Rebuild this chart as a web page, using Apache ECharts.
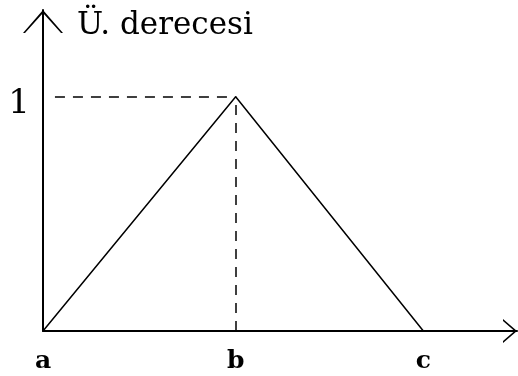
<!DOCTYPE html>
<html>
<head>
<meta charset="utf-8">
<script src="https://cdn.jsdelivr.net/npm/echarts@6/dist/echarts.min.js"></script>
<style>
  * { margin: 0; padding: 0; }
  body { background: #fff; }
</style>
</head>
<body>
<div id="main" style="width:518px;height:376px"></div>
<script>
// üyelik fonksiyonu noktaları
var pointNames = ['a', 'b', 'c'];
var pointX = [0, 1, 1.974];
var pointY = [0, 1, 0];
var yLabels = [1];
var titleText = 'Ü. derecesi';

var serif = 'DejaVu Serif';
var triangle = pointX.map(function (x, i) { return [x, pointY[i]]; });

var myChart = echarts.init(document.getElementById('main'));
myChart.setOption({
  animation: false,
  backgroundColor: '#fff',
  title: {
    text: titleText,
    left: 77,
    top: 10,
    padding: 0,
    textStyle: { fontFamily: serif, fontSize: 31, fontWeight: 'normal', color: '#000' }
  },
  grid: { left: 43, right: 1, top: 10, bottom: 45 },
  xAxis: {
    type: 'value',
    min: 0,
    max: 2.46,
    splitLine: { show: false },
    axisTick: { show: false },
    axisLine: {
      onZero: false,
      lineStyle: { color: '#000', width: 2 },
      symbol: ['none', 'path://M0,14 L12,0 L24,14 L22,14 L12,2.5 L2,14 Z'],
      symbolSize: [24, 14],
      symbolOffset: [0, -7]
    },
    axisLabel: {
      customValues: pointX,
      formatter: function (v) { return pointNames[pointX.indexOf(v)]; },
      margin: 18,
      fontFamily: serif,
      fontSize: 25,
      fontWeight: 'bold',
      color: '#000'
    }
  },
  yAxis: {
    type: 'value',
    min: 0,
    max: 1.37,
    splitLine: { show: false },
    axisTick: { show: false },
    axisLine: {
      onZero: false,
      lineStyle: { color: '#000', width: 2 },
      symbol: ['none', 'path://M0,23 L20,0 L40,23 L38,23 L20,3 L2,23 Z'],
      symbolSize: [40, 23],
      symbolOffset: [0, -11.5]
    },
    axisLabel: {
      customValues: yLabels,
      margin: 13,
      verticalAlign: 'top',
      lineHeight: 14,
      fontFamily: serif,
      fontSize: 34,
      color: '#000'
    }
  },
  series: [{
    type: 'line',
    data: triangle,
    symbol: 'none',
    lineStyle: { color: '#000', width: 1.5 },
    markLine: {
      silent: true,
      symbol: 'none',
      label: { show: false },
      lineStyle: { color: '#000', width: 1.5, type: [10, 8] },
      data: [
        [{ coord: [0.062, pointY[1]] }, { coord: [pointX[1], pointY[1]] }],
        [{ coord: [pointX[1], 0] }, { coord: [pointX[1], pointY[1]] }]
      ]
    }
  }]
});
</script>
</body>
</html>
